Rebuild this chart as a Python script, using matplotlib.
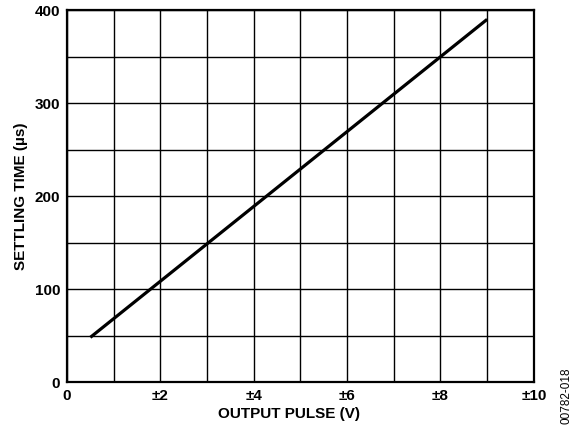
import matplotlib
matplotlib.use("Agg")
import matplotlib.pyplot as plt
import numpy as np

plt.rcParams['font.family'] = ['Liberation Sans', 'DejaVu Sans']

pulse_v = [0.5, 9.0]
settling_us = [48, 390]
x_ticks = [0, 2, 4, 6, 8, 10]
x_tick_labels = ['0', '±2', '±4', '±6', '±8', '±10']
y_ticks = [0, 100, 200, 300, 400]

fig = plt.figure(figsize=(5.85, 4.30), dpi=100)
ax = fig.add_axes([0.1145, 0.1116, 0.798, 0.865])
ax.plot(pulse_v, settling_us, color='black', lw=2.3, solid_capstyle='butt')
ax.set_xlim(0, 10)
ax.set_ylim(0, 400)
ax.set_xticks(np.arange(0, 11, 1), minor=True)
ax.set_yticks(np.arange(0, 401, 50), minor=True)
ax.set_xticks(x_ticks)
ax.set_xticklabels(x_tick_labels)
ax.set_yticks(y_ticks)
ax.grid(True, which='both', color='black', lw=1.0)
ax.tick_params(which='both', length=0, labelsize=11)
ax.tick_params(axis='x', pad=5)
ax.tick_params(axis='y', pad=5)
for lab in ax.get_xticklabels() + ax.get_yticklabels():
    lab.set_fontweight('bold')
for s in ax.spines.values():
    s.set_linewidth(1.6)
ax.set_axisbelow(True)
ax.set_xlabel('OUTPUT PULSE (V)', fontsize=11, fontweight='bold', labelpad=3)
ax.xaxis.label.set_x(0.475)
ax.set_ylabel('SETTLING TIME (µs)', fontsize=11, fontweight='bold', labelpad=5)
fig.text(0.969, 0.079, '00782-018', rotation=90, fontsize=8.5, ha='center', va='center')
fig.savefig('out.png', dpi=100)
